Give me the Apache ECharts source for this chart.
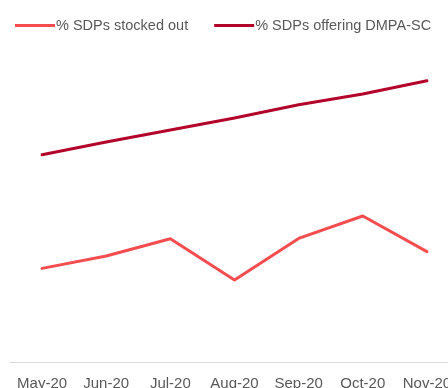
<!DOCTYPE html>
<html>
<head>
<meta charset="utf-8">
<script src="https://cdn.jsdelivr.net/npm/echarts@6/dist/echarts.min.js"></script>
<style>
  html, body { margin: 0; padding: 0; background: #fff; overflow: hidden; }
  #wrap { width: 448px; height: 388px; overflow: hidden; }
  #chart { width: 470px; height: 388px; }
</style>
</head>
<body>
<div id="wrap"><div id="chart"></div></div>
<script>
// Monthly service delivery point (SDP) indicators, %
const months = ['May-20', 'Jun-20', 'Jul-20', 'Aug-20', 'Sep-20', 'Oct-20', 'Nov-20'];
const stockedOut = [23.4, 26.5, 30.8, 20.5, 30.9, 36.5, 27.6];
const offeringDmpaSc = [51.8, 55.0, 58.0, 61.0, 64.3, 67.0, 70.3];
const seriesNames = ['% SDPs stocked out', '% SDPs offering DMPA-SC'];
const seriesColors = ['#F44D4F', '#B3052B'];

const chart = echarts.init(document.getElementById('chart'), null, { renderer: 'canvas' });

chart.setOption({
  animation: false,
  backgroundColor: '#ffffff',
  color: seriesColors,
  legend: {
    top: 13,
    left: 10,
    itemGap: 26,
    itemWidth: 40,
    itemHeight: 3,
    icon: 'rect',
    textStyle: { fontFamily: 'Liberation Sans', fontSize: 14.5, color: '#595959', padding: [0, 0, 0, -4] },
    data: seriesNames
  },
  grid: { left: 10, right: 11, top: 42, bottom: 26, outerBoundsMode: 'none' },
  xAxis: {
    type: 'category',
    data: months,
    boundaryGap: true,
    axisLine: { lineStyle: { color: '#d9d9d9', width: 1 } },
    axisTick: { show: false },
    axisLabel: {
      interval: 0,
      margin: 14,
      fontFamily: 'Liberation Sans',
      fontSize: 15,
      color: '#595959'
    }
  },
  yAxis: {
    type: 'value',
    min: 0,
    max: 80,
    show: false,
    splitLine: { show: false }
  },
  series: [
    {
      name: seriesNames[0],
      type: 'line',
      data: stockedOut,
      symbol: 'none',
      lineStyle: { width: 3, color: seriesColors[0], join: 'round', cap: 'round' }
    },
    {
      name: seriesNames[1],
      type: 'line',
      data: offeringDmpaSc,
      symbol: 'none',
      lineStyle: { width: 3, color: seriesColors[1], join: 'round', cap: 'round' }
    }
  ]
});
</script>
</body>
</html>
